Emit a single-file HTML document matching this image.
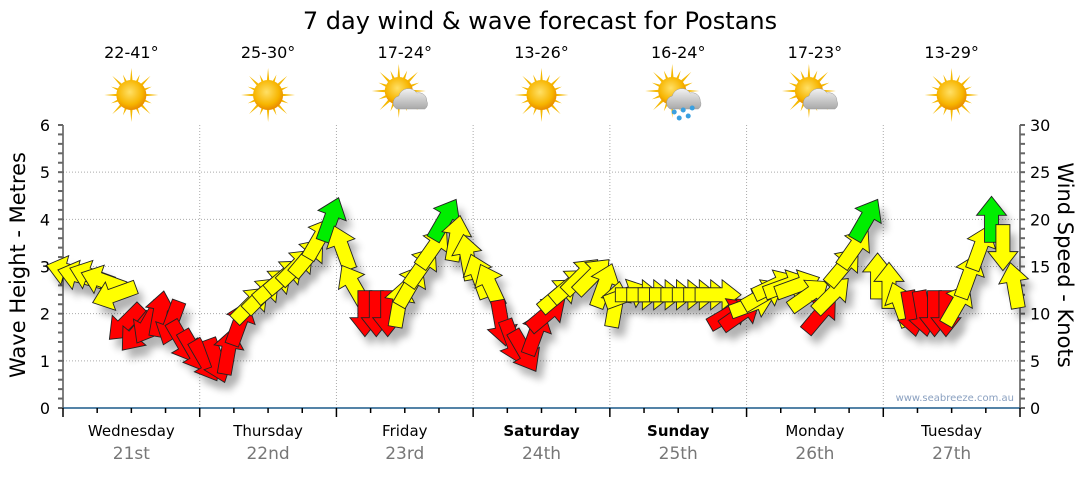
<!DOCTYPE html>
<html><head><meta charset="utf-8">
<style>
body{margin:0;background:#fff;font-family:"Liberation Sans",sans-serif;}
svg text{font-family:"DejaVu Sans","Liberation Sans",sans-serif;}
</style></head>
<body>
<svg id="chart" width="1080" height="475" viewBox="0 0 1080 475" xmlns="http://www.w3.org/2000/svg">
<defs>
<radialGradient id="sunG" cx="45%" cy="40%" r="60%"><stop offset="0" stop-color="#ffe066"/><stop offset="0.7" stop-color="#f7b500"/><stop offset="1" stop-color="#e88a00"/></radialGradient>
<linearGradient id="cloudG" x1="0" y1="0" x2="0" y2="1"><stop offset="0" stop-color="#f2f2f2"/><stop offset="1" stop-color="#a9a9a9"/></linearGradient>
<filter id="shadow" x="-50%" y="-50%" width="200%" height="200%"><feGaussianBlur stdDeviation="4"/></filter>
</defs>
<text x="540" y="29" text-anchor="middle" font-size="24" fill="#000">7 day wind &amp; wave forecast for Postans</text>
<g id="grid"></g>
<g id="axes"></g>
<g id="icons"></g>
<g id="shadows" opacity="0.3"></g>
<g id="arrows"></g>
<text x="25" y="265" transform="rotate(-90 25 265)" text-anchor="middle" font-size="21">Wave Height - Metres</text>
<text x="1058" y="265" transform="rotate(90 1058 265)" text-anchor="middle" font-size="21">Wind Speed - Knots</text>
<text x="1014" y="401" text-anchor="end" font-size="10" fill="#8aa0c0">www.seabreeze.com.au</text>
</svg>
<script>
const days=["Wednesday","Thursday","Friday","Saturday","Sunday","Monday","Tuesday"];
const dates=["21st","22nd","23rd","24th","25th","26th","27th"];
const boldDays=[false,false,false,true,true,false,false];
const temps=["22-41°","25-30°","17-24°","13-26°","16-24°","17-23°","13-29°"];
const weather=["sun","sun","cloud","sun","rain","cloud","sun"];
const waveTicks=[0,1,2,3,4,5,6];
const windTicks=[0,5,10,15,20,25,30];
const windSpeed=[14.5,14,14,13.5,12,9,8,9,10,9,7,6,
 5,5,6,9,11,12,13,14,15,16,18,20,
 17,13,10,10,10,11,13,15,17,20,18,16,
 14,13,9,7,6,8,10,12,13,14,14,13,
 11,12,12,12,12,12,12,12,12,12,10,10,
 11,12,13,13,13,12,10,12,15,17,20,14,
 13,11,10,10,10,10,11,14,17,20,17,13];
const windDir=[165,165,160,160,200,225,230,240,80,250,300,300,
 300,290,80,70,45,45,40,40,45,50,60,70,
 110,120,270,270,270,80,60,55,55,60,80,100,
 110,115,280,290,300,70,40,40,40,45,45,70,
 80,20,0,0,0,0,0,0,0,0,30,35,
 20,30,25,20,20,35,50,45,50,55,60,90,
 90,110,280,280,270,270,60,70,70,90,270,100];
const ns="http://www.w3.org/2000/svg";
const X0=63,X1=1020,Y0=408,Y1=125,DW=(X1-X0)/7;
function yWave(m){return Y0-(m/6)*(Y0-Y1);}
function yWind(k){return Y0-(k/30)*(Y0-Y1);}
function xPt(i){return X0+(i+0.5)*DW/12;}
function mk(tag,attrs,parent){const e=document.createElementNS(ns,tag);for(const k in attrs)e.setAttribute(k,attrs[k]);document.getElementById(parent).appendChild(e);return e;}
waveTicks.forEach(v=>{if(v>0&&v<6){const g=mk('line',{x1:X0,x2:X1,y1:yWave(v),y2:yWave(v),stroke:'#aaa','stroke-dasharray':'1,2'},'grid');}});
for(let d=1;d<7;d++){const g=mk('line',{x1:X0+d*DW,x2:X0+d*DW,y1:Y1,y2:Y0,stroke:'#aaa','stroke-dasharray':'1,2'},'grid');}
let a=mk('line',{x1:X0,x2:X0,y1:Y1,y2:Y0,stroke:'#000'},'axes');
a=mk('line',{x1:X1,x2:X1,y1:Y1,y2:Y0,stroke:'#000'},'axes');
a=mk('line',{x1:X0,x2:X1,y1:Y0,y2:Y0,stroke:'#1b5a8a','stroke-width':1.5},'axes');
for(let i=0;i<=30;i++){const y=Y0-i*(Y0-Y1)/30;mk('line',{x1:X0-5,x2:X0,y1:y,y2:y,stroke:'#666','stroke-width':2},'axes');mk('line',{x1:X1,x2:X1+5,y1:y,y2:y,stroke:'#666','stroke-width':2},'axes');}
waveTicks.forEach(v=>{const t=mk('text',{x:50,y:yWave(v)+6,'text-anchor':'end','font-size':16},'axes');t.textContent=v;});
windTicks.forEach(v=>{const t=mk('text',{x:1030,y:yWind(v)+6,'font-size':16},'axes');t.textContent=v;});
for(let q=0;q<=28;q++){const x=X0+q*DW/4;mk('line',{x1:x,x2:x,y1:Y0,y2:Y0+(q%4==0?9:5),stroke:'#000','stroke-width':1.5},'axes');}
days.forEach((d,i)=>{const cx=X0+(i+0.5)*DW;
 let t=mk('text',{x:cx,y:436,'text-anchor':'middle','font-size':15,'font-weight':boldDays[i]?'bold':'normal'},'axes');t.textContent=d;
 t=mk('text',{x:cx,y:459,'text-anchor':'middle','font-size':17,fill:'#777'},'axes');t.textContent=dates[i];
 t=mk('text',{x:cx,y:58,'text-anchor':'middle','font-size':16},'icons');t.textContent=temps[i];
 const g=mk('g',{transform:`translate(${cx},95)`},'icons');
 const sx=weather[i]=='sun'?0:-6, sy=weather[i]=='sun'?0:-4;
 let rays='';for(let r=0;r<16;r++){const an=r*Math.PI/8,L=r%2?22:27;rays+=`<polygon points="${sx+Math.cos(an-0.12)*12},${sy+Math.sin(an-0.12)*12} ${sx+Math.cos(an)*L},${sy+Math.sin(an)*L} ${sx+Math.cos(an+0.12)*12},${sy+Math.sin(an+0.12)*12}" fill="#f5b800"/>`;}
 g.innerHTML=rays+`<circle cx="${sx}" cy="${sy}" r="${weather[i]=='sun'?15:14}" fill="url(#sunG)"/>`+
 (weather[i]!='sun'?`<path d="M-8,14 a7,7 0 0 1 2,-13 a10,10 0 0 1 18,-3 a8,8 0 0 1 10,8 a6,6 0 0 1 -2,8 z" fill="url(#cloudG)" stroke="#999" stroke-width="0.5"/>`:'')+
 (weather[i]=='rain'?`<circle cx="-4" cy="17" r="2.5" fill="#3aa0e0"/><circle cx="5" cy="15" r="2.5" fill="#3aa0e0"/><circle cx="14" cy="13" r="2.5" fill="#3aa0e0"/><circle cx="1" cy="23" r="2.5" fill="#3aa0e0"/><circle cx="10" cy="21" r="2.5" fill="#3aa0e0"/>`:'');
});
const arrowPts="-23,-7 4,-7 4,-15 23,0 4,15 4,7 -23,7";
windSpeed.forEach((k,i)=>{
 const x=xPt(i),y=yWind(k),col=k<11?'#ff0000':(k<18.5?'#ffff00':'#00ee00');
 mk('polygon',{points:arrowPts,transform:`translate(${x+6},${y+9}) rotate(${-windDir[i]})`,fill:'#000',filter:'url(#shadow)'},'shadows');
 const p=mk('polygon',{points:arrowPts,transform:`translate(${x},${y}) rotate(${-windDir[i]})`,fill:col,stroke:'#222','stroke-width':0.9},'arrows');
 
 
});
</script>
</body></html>
